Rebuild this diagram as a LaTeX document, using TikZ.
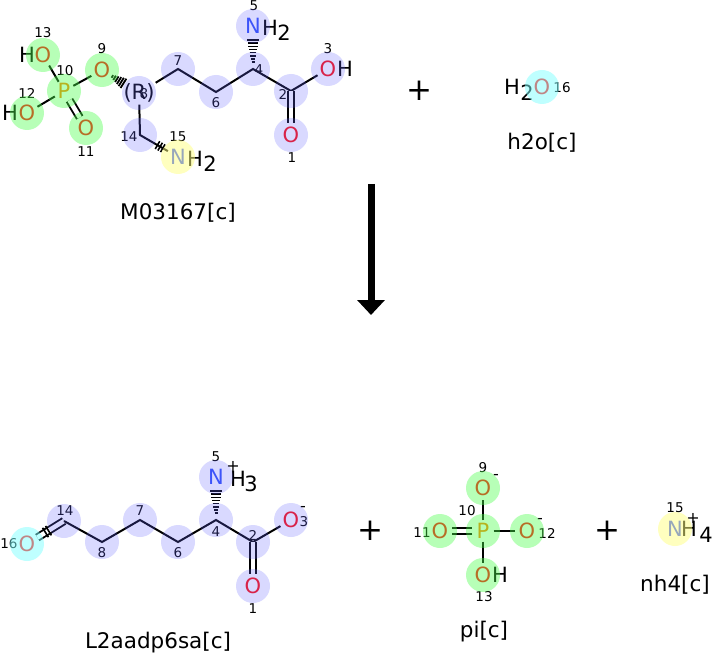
\documentclass[tikz,border=0pt]{standalone}
\usepackage{fontspec}
\setmainfont{DejaVu Sans}
\usetikzlibrary{calc,arrows.meta}

\definecolor{colO}{rgb}{1,0.05,0.05}
\definecolor{colN}{rgb}{0.19,0.31,0.97}
\definecolor{colP}{rgb}{1,0.5,0}
\definecolor{hlC}{rgb}{0.4,0.4,1}
\definecolor{hlO}{rgb}{0.3,1,0.3}
\definecolor{hlN}{rgb}{1,1,0.5}
\definecolor{hlW}{rgb}{0.5,1,1}

\tikzset{
  atom/.style={circle, inner sep=0.4pt, font=\fontsize{21}{21}\selectfont},
  txt/.style={inner sep=0pt, font=\fontsize{21}{21}\selectfont},
  num/.style={inner sep=0pt, font=\fontsize{13.5}{13.5}\selectfont},
  chg/.style={inner sep=0pt, font=\fontsize{16}{16}\selectfont},
  molname/.style={inner sep=0pt, font=\fontsize{21.5}{21.5}\selectfont},
  mas/.style={inner sep=0pt, font=\fontsize{31}{31}\selectfont},
  bond/.style={line width=2pt},
  dbond/.style={double, double distance=4.5pt, line width=1.9pt},
  hash/.style={line width=1.6pt},
  hlc/.style={fill=hlC, fill opacity=0.25},
  hlo/.style={fill=hlO, fill opacity=0.4},
  hln/.style={fill=hlN, fill opacity=0.5},
  hlw/.style={fill=hlW, fill opacity=0.5},
}

\begin{document}
\begin{tikzpicture}[x=1pt, y=-1pt]
\useasboundingbox (0,0) rectangle (712,655);

% M03167[c]
\coordinate (aC7) at (178,69);
\coordinate (aC6) at (216,92);
\coordinate (aC4) at (253,69);
\coordinate (aC2) at (291,91);
\coordinate (aC14) at (140,135);
\node[atom, text=colO] (aO13) at (43,55) {O};
\node[txt] (aH13) at (27,55) {H};
\node[atom, text=colP] (aP10) at (64,91) {P};
\node[atom, text=colO] (aO12) at (27,113) {O};
\node[txt] (aH12) at (10,113) {H};
\node[atom, text=colO] (aO11) at (86,128) {O};
\node[atom, text=colO] (aO9) at (102,70) {O};
\node[txt, inner xsep=1pt, inner ysep=2pt] (aC8) at (139,93) {(R)};
\node[atom, text=colN] (aN5) at (253,26) {N};
\node[txt] (aH5) at (270,28) {H};
\node[txt] (aS5) at (284,33) {2};
\node[atom, text=colO] (aO3) at (328,69) {O};
\node[txt] (aH3) at (345,69) {H};
\node[atom, text=colO] (aO1) at (291,135) {O};
\node[atom, text=colN] (aN15) at (178,157) {N};
\node[txt] (aH15) at (195,159) {H};
\node[txt] (aS15) at (210,164) {2};

\draw[bond] (aO13) -- (aP10);
\draw[bond] (aP10) -- (aO12);
\draw[bond] (aP10) -- (aO9);
\draw[dbond] (aP10) -- (aO11);
\draw[bond] (aC8) -- (aC7) -- (aC6) -- (aC4) -- (aC2) -- (aO3);
\draw[dbond] (aC2) -- (aO1);
\draw[bond] (aC8) -- (aC14) -- (aN15);
\foreach \t/\w in {0.16/1.5pt,0.23/2.2pt,0.30/2.8pt,0.38/3.4pt,0.45/4pt,0.52/4.6pt,0.60/5.2pt,0.67/5.8pt}
  \draw[hash] ($(aC4)!\t!(aN5)!\w!90:(aN5)$) -- ($(aC4)!\t!(aN5)!\w!-90:(aN5)$);
\foreach \t/\w in {0.28/1.5pt,0.34/2.5pt,0.40/3.3pt,0.46/4.1pt,0.52/4.9pt,0.58/5.5pt}
  \draw[hash, line width=1.8pt] ($(aO9)!\t!(aC8)!\w!90:(aC8)$) -- ($(aO9)!\t!(aC8)!\w!-90:(aC8)$);
\foreach \t in {0.46,0.53,0.60}
  \draw[hash] ($(aC14)!\t!(aN15)!4.5pt!90:(aN15)$) -- ($(aC14)!\t!(aN15)!4.5pt!-90:(aN15)$);

\node[num] (an13) at (43,33) {13};
\node[num] (an10) at (65,71) {10};
\node[num] (an9) at (102,49) {9};
\node[num] (an12) at (27,93) {12};
\node[num] (an11) at (86,152) {11};
\node[num] (an8) at (144,94) {8};
\node[num] (an7) at (178,61) {7};
\node[num] (an6) at (216,103) {6};
\node[num] (an5) at (254,6) {5};
\node[num] (an4) at (259,70) {4};
\node[num] (an3) at (328,49) {3};
\node[num] (an2) at (283,94) {2};
\node[num] (an1) at (292,158) {1};
\node[num] (an14) at (129,137) {14};
\node[num] (an15) at (178,137) {15};

\foreach \p in {aC8,aC7,aC6,aC4,aN5,aC2,aO3,aO1,aC14}
  \fill[hlc] (\p) circle (17);
\foreach \p in {aO13,aP10,aO12,aO11,aO9}
  \fill[hlo] (\p) circle (17);
\fill[hln] (aN15) circle (17);
\node[molname] (aname) at (178,213) {M03167[c]};

% agua
\node[mas] (mas1) at (419,91) {+};
\node[txt] (wH) at (512,87) {H};
\node[txt] (wS) at (527,93) {2};
\node[atom, text=colO] (wO) at (542,87) {O};
\node[num] (wn16) at (562,88) {16};
\fill[hlw] (wO) circle (17);
\node[molname] (wname) at (542,143) {h2o[c]};

% flecha
\coordinate (ftop) at (371,184);
\coordinate (fbot) at (371,315);
\draw[line width=7pt, -{Triangle[width=27pt, length=15pt]}] (ftop) -- (fbot);

% L2aadp6sa[c]
\coordinate (bC14) at (64,521);
\coordinate (bC8) at (102,542);
\coordinate (bC7) at (140,520);
\coordinate (bC6) at (178,542);
\coordinate (bC4) at (216,520);
\coordinate (bC2) at (253,542);
\node[atom, text=colO] (bO16) at (27,544) {O};
\node[atom, text=colN] (bN5) at (216,477) {N};
\node[txt] (bH5) at (238,479) {H};
\node[txt] (bS5) at (251,484) {3};
\node[chg] (bq5) at (233,466) {+};
\node[atom, text=colO] (bO3) at (291,520) {O};
\node[chg] (bq3) at (303,509) {-};
\node[atom, text=colO] (bO1) at (253,586) {O};

\draw[dbond] (bO16) -- (bC14);
\foreach \t in {0.50,0.58}
  \draw[hash] ($(bO16)!\t!(bC14)!5.5pt!90:(bC14)$) -- ($(bO16)!\t!(bC14)!5.5pt!-90:(bC14)$);
\draw[bond] (bC14) -- (bC8) -- (bC7) -- (bC6) -- (bC4) -- (bC2) -- (bO3);
\draw[dbond] (bC2) -- (bO1);
\foreach \t/\w in {0.16/1.5pt,0.23/2.2pt,0.30/2.8pt,0.38/3.4pt,0.45/4pt,0.52/4.6pt,0.60/5.2pt,0.67/5.8pt}
  \draw[hash] ($(bC4)!\t!(bN5)!\w!90:(bN5)$) -- ($(bC4)!\t!(bN5)!\w!-90:(bN5)$);

\node[num] (bn16) at (9,544) {16};
\node[num] (bn14) at (65,511) {14};
\node[num] (bn8) at (102,553) {8};
\node[num] (bn7) at (140,511) {7};
\node[num] (bn6) at (178,553) {6};
\node[num] (bn5) at (216,457) {5};
\node[num] (bn4) at (216,532) {4};
\node[num] (bn3) at (304,522) {3};
\node[num] (bn2) at (253,535) {2};
\node[num] (bn1) at (253,609) {1};

\foreach \p in {bC14,bC8,bC7,bC6,bC4,bN5,bC2,bO3,bO1}
  \fill[hlc] (\p) circle (17);
\fill[hlw] (bO16) circle (17);
\node[molname] (bname) at (158,643) {L2aadp6sa[c]};

% pi[c]
\node[mas] (mas2) at (370,531) {+};
\node[atom, text=colP] (cP10) at (483,531) {P};
\node[atom, text=colO] (cO9) at (483,488) {O};
\node[chg] (cq9) at (496,477) {-};
\node[atom, text=colO] (cO11) at (440,531) {O};
\node[atom, text=colO] (cO12) at (527,531) {O};
\node[chg] (cq12) at (540,521) {-};
\node[atom, text=colO] (cO13) at (483,575) {O};
\node[txt] (cH13) at (500,575) {H};

\draw[bond] (cP10) -- (cO9);
\draw[dbond] (cP10) -- (cO11);
\draw[bond] (cP10) -- (cO12);
\draw[bond] (cP10) -- (cO13);

\node[num] (cn10) at (467,511) {10};
\node[num] (cn9) at (483,468) {9};
\node[num] (cn11) at (422,533) {11};
\node[num] (cn12) at (547,533) {12};
\node[num] (cn13) at (484,597) {13};

\foreach \p in {cP10,cO9,cO11,cO12,cO13}
  \fill[hlo] (\p) circle (17);
\node[molname] (cname) at (484,632) {pi[c]};

% nh4[c]
\node[mas] (mas3) at (607,531) {+};
\node[atom, text=colN] (dN15) at (675,529) {N};
\node[txt] (dH15) at (689,529) {H};
\node[txt] (dS15) at (706,535) {4};
\node[chg] (dq15) at (693,518) {+};
\node[num] (dn15) at (675,508) {15};
\fill[hln] (dN15) circle (17);
\node[molname] (dname) at (675,585) {nh4[c]};

\end{tikzpicture}
\end{document}
